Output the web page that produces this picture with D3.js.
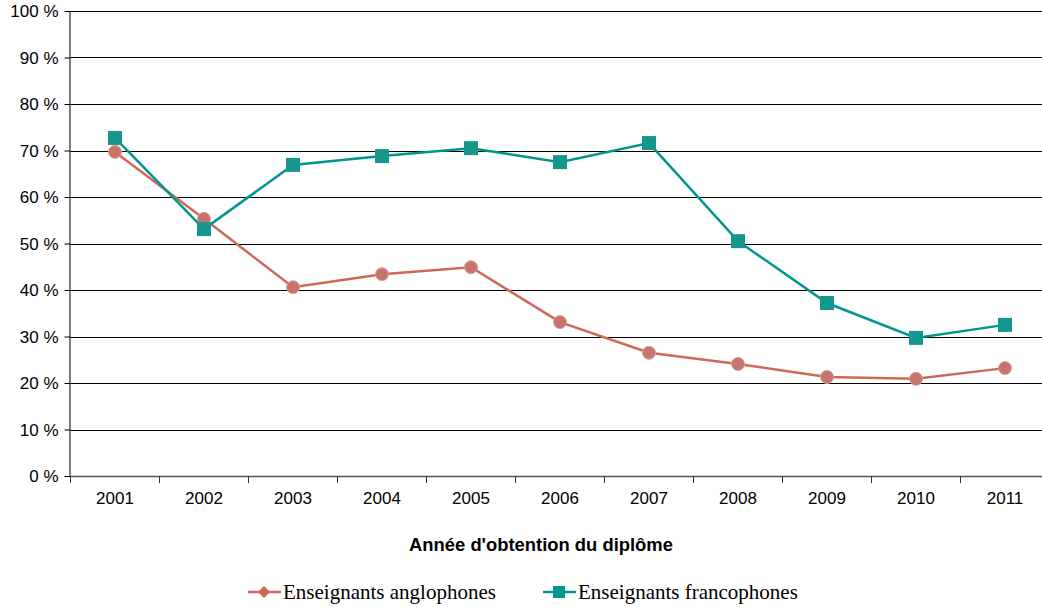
<!DOCTYPE html>
<html>
<head>
<meta charset="utf-8">
<script src="https://d3js.org/d3.v7.min.js"></script>
<style>
  body { margin: 0; background: #fff; }
  .axis text { font-family: "Liberation Sans", Arial, sans-serif; font-size: 17px; fill: #000; }
  .grid line { stroke: #000; stroke-width: 1; }
  .legend text { font-family: "Liberation Serif", "Times New Roman", serif; font-size: 21px; fill: #000; }
</style>
</head>
<body>
<div id="chart"></div>
<script>
// Data
const years = ['2001', '2002', '2003', '2004', '2005', '2006', '2007', '2008', '2009', '2010', '2011'];
const anglophones = [69.7, 55.3, 40.6, 43.4, 44.9, 33.1, 26.5, 24.1, 21.3, 20.9, 23.2];
const francophones = [72.7, 53.1, 66.9, 68.8, 70.5, 67.5, 71.6, 50.5, 37.2, 29.7, 32.5];
const yTicks = [0, 10, 20, 30, 40, 50, 60, 70, 80, 90, 100];
const seriesNames = ['Enseignants anglophones', 'Enseignants francophones'];
const xTitle = "Année d'obtention du diplôme";

const W = 1042, H = 607;
const margin = { top: 11, left: 70.5, bottom: 131 };
const plotW = 979;
const plotH = H - margin.top - margin.bottom;

const svg = d3.select('#chart').append('svg')
    .attr('width', W)
    .attr('height', H);

const g = svg.append('g')
    .attr('transform', `translate(${margin.left},${margin.top})`);

const x = d3.scaleBand().domain(years).range([0, plotW]);
const y = d3.scaleLinear().domain([0, 100]).range([plotH, 0]);

// horizontal gridlines
g.append('g')
    .attr('class', 'grid')
    .selectAll('line')
    .data(yTicks.filter(d => d > 0))
    .enter()
    .append('line')
    .attr('x1', 0)
    .attr('x2', plotW)
    .attr('y1', d => Math.round(y(d)) + 0.5)
    .attr('y2', d => Math.round(y(d)) + 0.5);

// y axis
const yAxis = g.append('g')
    .attr('class', 'axis')
    .call(d3.axisLeft(y).tickValues(yTicks).tickSize(6).tickPadding(6).tickFormat(d => d + ' %'));
yAxis.select('.domain').attr('d', `M-0.5,0V${plotH}`).attr('stroke', '#000');
yAxis.selectAll('.tick line').attr('stroke', '#000');
yAxis.selectAll('text').attr('dy', '0.35em');

// x axis with ticks between categories
const xAxis = g.append('g')
    .attr('class', 'axis')
    .attr('transform', `translate(0,${plotH})`)
    .call(d3.axisBottom(x).tickSize(0).tickPadding(16));
xAxis.select('.domain').attr('d', `M0,0.5H${plotW}`).attr('stroke', '#555').attr('stroke-width', 1.5);
xAxis.selectAll('.sep')
    .data(years)
    .enter()
    .append('line')
    .attr('class', 'sep')
    .attr('x1', d => x(d))
    .attr('x2', d => x(d))
    .attr('y1', 0)
    .attr('y2', 7)
    .attr('stroke', '#333');

// axis title
svg.append('text')
    .attr('x', 541)
    .attr('y', 551)
    .attr('text-anchor', 'middle')
    .style('font-family', '"Liberation Sans", Arial, sans-serif')
    .style('font-size', '18.4px')
    .style('font-weight', 'bold')
    .text(xTitle);

const cx = d => x(d) + x.bandwidth() / 2;
const line = d3.line().x((d, i) => cx(years[i])).y(d => y(d));

const red = '#d0675a';
const teal = '#00968c';

// anglophones
g.append('path')
    .datum(anglophones)
    .attr('d', line)
    .attr('fill', 'none')
    .attr('stroke', red)
    .attr('stroke-width', 2.5);

g.selectAll('.ang')
    .data(anglophones)
    .enter()
    .append('circle')
    .attr('class', 'ang')
    .attr('cx', (d, i) => cx(years[i]))
    .attr('cy', d => y(d))
    .attr('r', 6.5)
    .attr('fill', '#c8736b')
    .attr('stroke', '#d9a39d')
    .attr('stroke-width', 1);

// francophones
g.append('path')
    .datum(francophones)
    .attr('d', line)
    .attr('fill', 'none')
    .attr('stroke', teal)
    .attr('stroke-width', 2.5);

g.selectAll('.fra')
    .data(francophones)
    .enter()
    .append('rect')
    .attr('class', 'fra')
    .attr('x', (d, i) => cx(years[i]) - 7)
    .attr('y', d => y(d) - 7)
    .attr('width', 14)
    .attr('height', 14)
    .attr('fill', '#16978d');

// legend
const legend = svg.append('g').attr('class', 'legend');
const legendItems = [
    { name: seriesNames[0], color: red, x: 248, marker: 'diamond' },
    { name: seriesNames[1], color: teal, x: 543, marker: 'square' }
];
legendItems.forEach(item => {
    const lg = legend.append('g').attr('transform', `translate(${item.x},592)`);
    lg.append('line')
        .attr('x1', 0).attr('x2', 33)
        .attr('y1', 0).attr('y2', 0)
        .attr('stroke', item.color)
        .attr('stroke-width', 2.5);
    if (item.marker === 'diamond') {
        lg.append('path')
            .attr('d', 'M16,-6L22,0L16,6L10,0Z')
            .attr('fill', item.color);
    } else {
        lg.append('rect')
            .attr('x', 10).attr('y', -6)
            .attr('width', 12).attr('height', 12)
            .attr('fill', item.color);
    }
    lg.append('text')
        .attr('x', 35)
        .attr('y', 7)
        .text(item.name);
});
</script>
</body>
</html>
